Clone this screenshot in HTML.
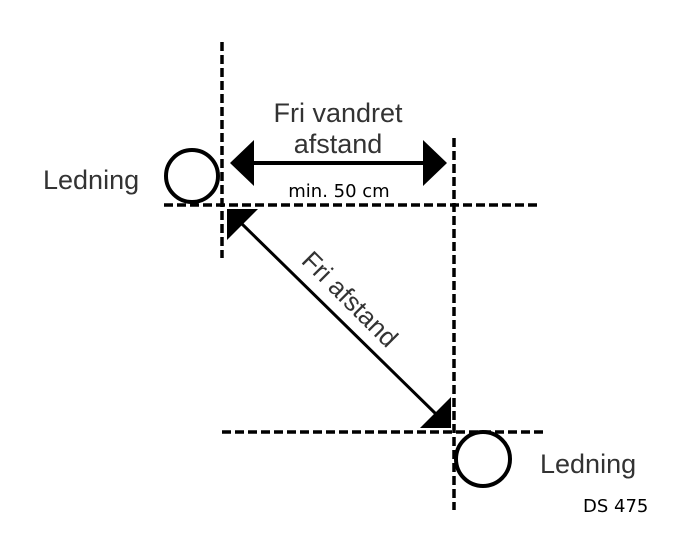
<!DOCTYPE html><html><head><style>body{margin:0;background:#fff}</style></head><body>
<svg width="675" height="531" viewBox="0 0 675 531" xmlns="http://www.w3.org/2000/svg">
<g stroke="#000" stroke-width="3.5" stroke-dasharray="9,4" fill="none">
<line x1="222" y1="42" x2="222" y2="258"/>
<line x1="164" y1="205" x2="540" y2="205"/>
<line x1="454" y1="138" x2="454" y2="510"/>
<line x1="222" y1="432" x2="545" y2="432"/>
</g>
<circle cx="192" cy="176" r="26" fill="#fff" stroke="#000" stroke-width="4"/>
<circle cx="483" cy="459" r="27" fill="#fff" stroke="#000" stroke-width="4"/>
<line x1="250" y1="163" x2="425" y2="163" stroke="#000" stroke-width="4"/>
<polygon points="230,163 254,140 254,186" fill="#000"/>
<polygon points="447,163 423,140 423,186" fill="#000"/>
<line x1="240" y1="222" x2="438" y2="416" stroke="#000" stroke-width="3"/>
<polygon points="227,209 258,209 227,240" fill="#000"/>
<polygon points="451,428 420,428 451,397" fill="#000"/>
<g font-family="Liberation Sans, sans-serif" fill="#333" font-size="27">
<text x="338" y="122" text-anchor="middle">Fri vandret</text>
<text x="338" y="153" text-anchor="middle">afstand</text>
<text x="43" y="189">Ledning</text>
<text x="540" y="473">Ledning</text>
<text transform="translate(350,299) rotate(45)" text-anchor="middle" dominant-baseline="central" font-size="26">Fri afstand</text>
</g>
<g font-family="DejaVu Sans, sans-serif" fill="#000" font-size="18">
<text x="339" y="197" text-anchor="middle">min. 50 cm</text>
<text x="583" y="512">DS 475</text>
</g>
</svg></body></html>
